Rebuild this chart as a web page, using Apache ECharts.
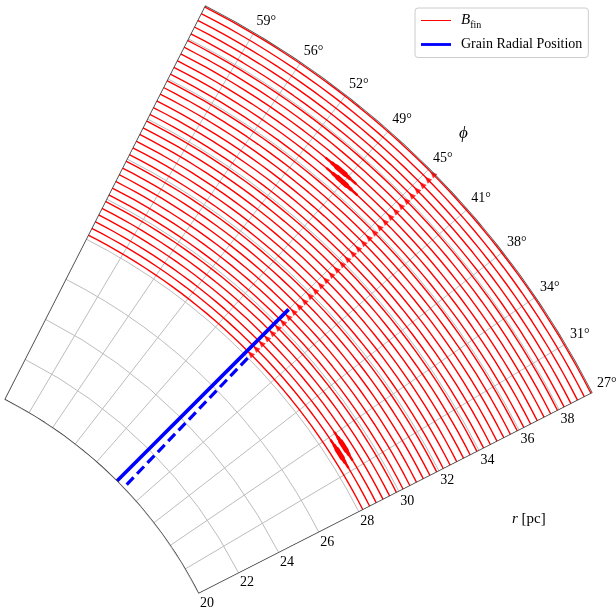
<!DOCTYPE html>
<html>
<head>
<meta charset="utf-8">
<script src="https://cdn.jsdelivr.net/npm/echarts@6/dist/echarts.min.js"></script>
<style>
  html, body { margin: 0; padding: 0; background: #ffffff; }
  #chart { width: 616px; height: 608px; }
</style>
</head>
<body>
<div id="chart"></div>
<script>
// Wedge limits (radius in pc, azimuth in degrees)
const R_MIN = 20;
const R_MAX = 39.66;
const PHI_MIN = 27;
const PHI_MAX = 63;

// Azimuth samples used to trace curves of constant radius
const phiGrid = [27, 28, 29, 30, 31, 32, 33, 34, 35, 36, 37, 38, 39, 40, 41, 42, 43, 44, 45,
  46, 47, 48, 49, 50, 51, 52, 53, 54, 55, 56, 57, 58, 59, 60, 61, 62, 63];

// Radii of the B_fin field lines
const fieldLineR = [28.20, 28.54, 28.87, 29.21, 29.54, 29.88, 30.21, 30.55, 30.88, 31.22,
  31.55, 31.89, 32.22, 32.56, 32.89, 33.23, 33.56, 33.90, 34.23, 34.57, 34.90, 35.24,
  35.57, 35.91, 36.24, 36.58, 36.91, 37.25, 37.58, 37.92, 38.25, 38.59, 38.92, 39.26, 39.59];

// Azimuth of the direction arrows on each field line
const arrowPhi = 44.6;

// Places where neighbouring field lines bunch up: [r, phi start, phi end]
const bunching = [
  [36.58, 47.3, 50.1], [36.91, 47.9, 50.6],
  [28.54, 31.0, 33.9], [28.87, 31.4, 34.3]
];

// Grain radial position: [r, phi]
const grainSolid = [[20.0, 45.0], [30.8, 45.0]];
const grainDashed = [[20.2, 43.8], [28.0, 44.5]];

const SERIF = '"Liberation Serif", "DejaVu Serif", serif';
const RED = '#ff0000';
const BLUE = '#0000ff';

const chart = echarts.init(document.getElementById('chart'), null, { renderer: 'canvas' });

const series = [];

// points of a curve of constant radius r at the given azimuths
function constR(r, phis) {
  return phis.map(function (p) { return [r, p]; });
}

// field lines
fieldLineR.forEach(function (r) {
  series.push({
    name: 'Bfin', type: 'line', coordinateSystem: 'polar',
    data: constR(r, phiGrid),
    symbol: 'none', showSymbol: false, silent: true,
    itemStyle: { color: RED },
    lineStyle: { color: RED, width: 1.4 },
    z: 3
  });
});

// bunched segments: a lens built from a thin rim and heavier core
bunching.forEach(function (b) {
  const a = b[1], e = b[2], span = e - a;
  const layers = [
    { from: a, to: e, width: 2.4 },
    { from: a + span * 0.2, to: e - span * 0.2, width: 3.6 },
    { from: a + span * 0.35, to: e - span * 0.35, width: 5 }
  ];
  layers.forEach(function (l) {
    series.push({
      name: 'Bfin', type: 'line', coordinateSystem: 'polar',
      data: constR(b[0], [l.from, (l.from + l.to) / 2, l.to]),
      symbol: 'none', silent: true,
      itemStyle: { color: RED },
      lineStyle: { color: RED, width: l.width, cap: 'round' },
      z: 3
    });
  });
});

// direction arrows, one per field line
series.push({
  name: 'Bfin', type: 'scatter', coordinateSystem: 'polar',
  data: fieldLineR.map(function (r) { return [r, arrowPhi]; }),
  symbol: 'triangle', symbolSize: [6, 7], symbolRotate: 45, silent: true,
  itemStyle: { color: RED },
  z: 4
});

// grain radial position
series.push({
  name: 'Grain Radial Position', type: 'line', coordinateSystem: 'polar',
  data: grainSolid, symbol: 'none', silent: true,
  itemStyle: { color: BLUE },
  lineStyle: { color: BLUE, width: 3.6 },
  z: 5
});
series.push({
  name: 'Grain Radial Position', type: 'line', coordinateSystem: 'polar',
  data: grainDashed, symbol: 'none', silent: true,
  itemStyle: { color: BLUE },
  lineStyle: { color: BLUE, width: 3.2, type: [10, 5] },
  z: 5
});

// wedge outline
const outline = [[R_MIN, PHI_MIN], [R_MAX, PHI_MIN]]
  .concat(constR(R_MAX, phiGrid))
  .concat([[R_MIN, PHI_MAX]])
  .concat(constR(R_MIN, phiGrid.slice().reverse()));
series.push({
  name: 'outline', type: 'line', coordinateSystem: 'polar',
  data: outline, symbol: 'none', silent: true,
  lineStyle: { color: '#333333', width: 1.2 },
  z: 6
});

const option = {
  animation: false,
  backgroundColor: '#ffffff',
  polar: { center: [-197, 795], radius: [444, 886] },
  angleAxis: {
    type: 'value', min: PHI_MIN, max: PHI_MAX, interval: 3.6,
    startAngle: PHI_MIN, endAngle: PHI_MAX, clockwise: false,
    axisLine: { show: false },
    axisTick: { show: false },
    axisLabel: {
      margin: 5, color: '#000000', fontSize: 14, fontFamily: SERIF,
      formatter: function (v) { return Math.round(v) + '°'; }
    },
    splitLine: { show: true, lineStyle: { color: '#bdbdbd', width: 1 } }
  },
  radiusAxis: {
    type: 'value', min: R_MIN, max: R_MAX, interval: 2,
    axisLine: { show: false },
    axisTick: { show: false },
    axisLabel: {
      margin: -3, align: 'left', verticalAlign: 'top', showMaxLabel: false,
      color: '#000000', fontSize: 14, fontFamily: SERIF
    },
    splitLine: { show: true, lineStyle: { color: '#bdbdbd', width: 1 } }
  },
  legend: {
    orient: 'vertical', left: 415, top: 8,
    padding: [5, 6, 6, 6], itemWidth: 30, itemHeight: 16, itemGap: 7,
    backgroundColor: 'rgba(255,255,255,0.8)', borderColor: '#cccccc', borderWidth: 1, borderRadius: 3,
    textStyle: {
      fontFamily: SERIF, fontSize: 14, color: '#000000', padding: [0, 0, 0, 5],
      rich: {
        b: { fontFamily: SERIF, fontStyle: 'italic', fontSize: 15, color: '#000000', lineHeight: 20 },
        s: { fontFamily: SERIF, fontSize: 10, color: '#000000', lineHeight: 20, verticalAlign: 'bottom' }
      }
    },
    formatter: function (name) { return name === 'Bfin' ? '{b|B}{s|fin}' : name; },
    data: [
      { name: 'Bfin', icon: 'path://M0,0H40V1.4H0Z', itemStyle: { color: RED } },
      { name: 'Grain Radial Position', icon: 'path://M0,0H40V3.8H0Z', itemStyle: { color: BLUE } }
    ]
  },
  graphic: [
    { type: 'text', left: 459, top: 125, style: { text: 'ϕ', font: 'italic 17px ' + SERIF, fill: '#000000' } },
    { type: 'text', left: 512, top: 512, style: { text: '{i|r} [pc]', font: '15px ' + SERIF, fill: '#000000',
      rich: { i: { fontStyle: 'italic', fontFamily: SERIF, fontSize: 15 } } } }
  ],
  series: series
};

chart.setOption(option);
</script>
</body>
</html>
